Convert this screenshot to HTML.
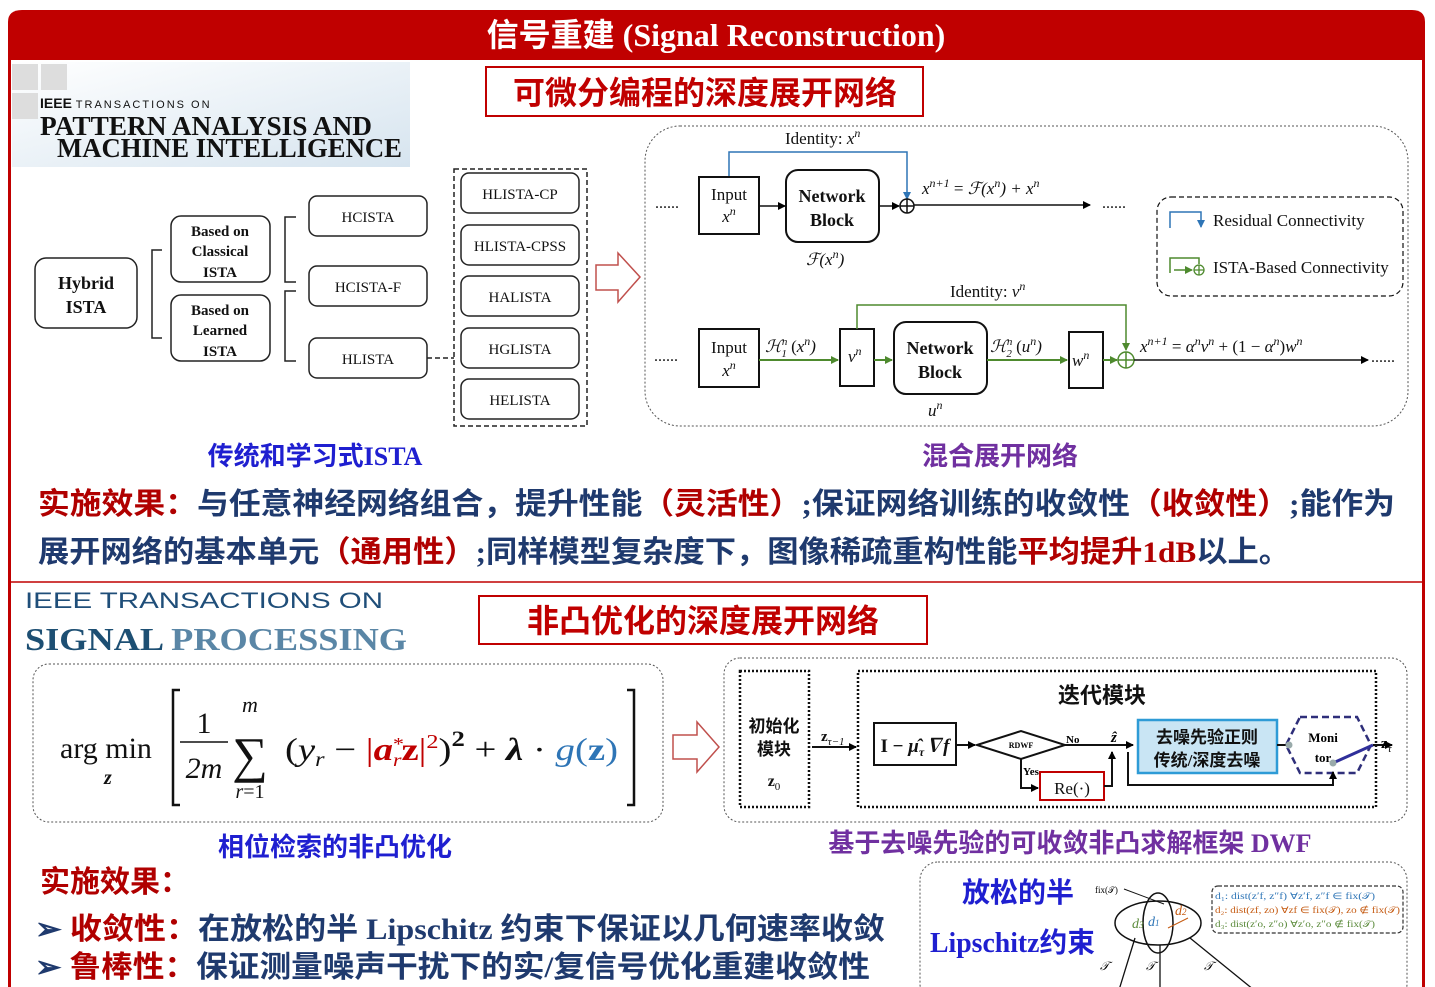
<!DOCTYPE html>
<html><head><meta charset="utf-8"><style>
html,body{margin:0;padding:0;background:#fff;}
svg{display:block;}
.s{font-family:"Liberation Serif","Noto Serif CJK SC",serif;}
.c{font-family:"Liberation Serif","Noto Sans CJK SC",sans-serif;font-weight:bold;}
</style></head><body>
<svg width="1435" height="987" viewBox="0 0 1435 987" xmlns="http://www.w3.org/2000/svg">
<defs>
<marker id="ak" markerWidth="8" markerHeight="8" refX="7" refY="4" orient="auto" markerUnits="userSpaceOnUse"><path d="M0,0 L8,4 L0,8 z" fill="#000"/></marker>
<marker id="ag" markerWidth="8" markerHeight="8" refX="7" refY="4" orient="auto" markerUnits="userSpaceOnUse"><path d="M0,0 L8,4 L0,8 z" fill="#4e8a2e"/></marker>
<marker id="ab" markerWidth="8" markerHeight="8" refX="7" refY="4" orient="auto" markerUnits="userSpaceOnUse"><path d="M0,0 L8,4 L0,8 z" fill="#2e75b6"/></marker>
<linearGradient id="lg" x1="0" x2="1" y1="0" y2="1"><stop offset="0" stop-color="#ffffff"/><stop offset="1" stop-color="#d6e4ef"/></linearGradient>
</defs>
<path d="M8,60 V22 Q8,10 22,10 H1412 Q1425,10 1425,22 V60 Z" fill="#c00000"/>
<line x1="9.5" y1="60" x2="9.5" y2="987" stroke="#c00000" stroke-width="3"/>
<line x1="1423.5" y1="60" x2="1423.5" y2="987" stroke="#c00000" stroke-width="3"/>
<line x1="9" y1="582" x2="1423" y2="582" stroke="#c00000" stroke-width="1.5"/>
<text x="716" y="46" text-anchor="middle" class="c" font-size="32" fill="#fff">信号重建 (Signal Reconstruction)</text>

<rect x="12" y="62" width="398" height="105" fill="url(#lg)"/>
<rect x="12" y="64" width="26" height="26" fill="#ddd"/><rect x="41" y="64" width="26" height="26" fill="#ddd"/><rect x="12" y="93" width="26" height="26" fill="#ddd"/>
<text x="40" y="108" font-family="Liberation Sans,sans-serif" font-size="14" font-weight="bold" fill="#111">IEEE <tspan font-size="11" font-weight="normal" letter-spacing="2">TRANSACTIONS ON</tspan></text>
<text x="40" y="135" class="s" font-size="27" font-weight="bold" fill="#111" textLength="332" lengthAdjust="spacingAndGlyphs">PATTERN ANALYSIS AND</text>
<text x="57" y="157" class="s" font-size="27" font-weight="bold" fill="#111" textLength="345" lengthAdjust="spacingAndGlyphs">MACHINE INTELLIGENCE</text>

<rect x="486" y="67" width="437" height="49" fill="none" stroke="#c00000" stroke-width="2"/>
<text x="705" y="104" text-anchor="middle" class="c" font-size="32" fill="#c00000">可微分编程的深度展开网络</text>

<g fill="none" stroke="#222" stroke-width="1.5">
<rect x="35" y="258" width="102" height="70" rx="11"/>
<rect x="171" y="216" width="99" height="66" rx="10"/>
<rect x="171" y="295" width="99" height="66" rx="10"/>
<path d="M162,250 H152 V338 H162"/>
<path d="M296,217 H285 V282 H296"/>
<path d="M296,291 H285 V361 H296"/>
<rect x="309" y="196" width="118" height="40" rx="8"/>
<rect x="309" y="266" width="118" height="40" rx="8"/>
<rect x="309" y="338" width="118" height="40" rx="8"/>
<rect x="461" y="173" width="118" height="40" rx="8"/>
<rect x="461" y="225" width="118" height="40" rx="8"/>
<rect x="461" y="276" width="118" height="40" rx="8"/>
<rect x="461" y="328" width="118" height="40" rx="8"/>
<rect x="461" y="379" width="118" height="40" rx="8"/>
<path d="M427,358 H454" stroke-dasharray="5,3"/>
<rect x="454" y="169" width="133" height="257" stroke-dasharray="5,3"/>
</g>
<g class="s" font-size="18" font-weight="bold" text-anchor="middle" fill="#111">
<text x="86" y="289">Hybrid</text><text x="86" y="313">ISTA</text>
</g>
<g class="s" font-size="15" font-weight="bold" text-anchor="middle" fill="#111">
<text x="220" y="236">Based on</text><text x="220" y="256">Classical</text><text x="220" y="277">ISTA</text>
<text x="220" y="315">Based on</text><text x="220" y="335">Learned</text><text x="220" y="356">ISTA</text>
</g>
<g class="s" font-size="15" text-anchor="middle" fill="#111">
<text x="368" y="222">HCISTA</text><text x="368" y="292">HCISTA-F</text><text x="368" y="364">HLISTA</text>
<text x="520" y="199">HLISTA-CP</text><text x="520" y="251">HLISTA-CPSS</text><text x="520" y="302">HALISTA</text><text x="520" y="354">HGLISTA</text><text x="520" y="405">HELISTA</text>
</g>
<path d="M596,265 H618 V253 L640,277 L618,302 V290 H596 Z" fill="#fff" stroke="#c0504d" stroke-width="1.5"/>

<rect x="645" y="126" width="763" height="300" rx="35" fill="none" stroke="#555" stroke-width="1" stroke-dasharray="2,2"/>
<text x="785" y="144" class="s" font-size="17" fill="#111">Identity: <tspan font-style="italic">x<tspan font-size="12" dy="-7">n</tspan></tspan></text>
<path d="M729,177 V152 H907 V199" fill="none" stroke="#2e75b6" stroke-width="1.5" marker-end="url(#ab)"/>
<g fill="none" stroke="#111" stroke-width="2">
<rect x="699" y="177" width="60" height="57"/>
<rect x="786" y="170" width="93" height="72" rx="12"/>
<rect x="699" y="329" width="60" height="58"/>
<rect x="840" y="329" width="34" height="57"/>
<rect x="894" y="322" width="93" height="72" rx="12"/>
<rect x="1069" y="332" width="34" height="56"/>
<rect x="1157" y="197" width="246" height="99" rx="14" stroke-width="1.2" stroke-dasharray="5,3"/>
</g>
<line x1="759" y1="206" x2="785" y2="206" stroke="#111" stroke-width="1.5" marker-end="url(#ak)"/>
<line x1="879" y1="206" x2="899" y2="206" stroke="#111" stroke-width="1.5" marker-end="url(#ak)"/>
<circle cx="907" cy="206" r="7" fill="none" stroke="#111" stroke-width="1.5"/>
<path d="M900,206 H914 M907,199 V213" stroke="#111" stroke-width="1.5"/>
<line x1="914" y1="205" x2="1090" y2="205" stroke="#111" stroke-width="1.5" marker-end="url(#ak)"/>
<text x="655" y="208" font-size="16" fill="#111" font-family="Liberation Serif">......</text>
<text x="1102" y="208" font-size="16" fill="#111" font-family="Liberation Serif">......</text>
<g class="s" font-size="17" text-anchor="middle" fill="#111">
<text x="729" y="200">Input</text><text x="729" y="222" font-style="italic">x<tspan font-size="12" dy="-7">n</tspan></text>
<text x="729" y="353">Input</text><text x="729" y="376" font-style="italic">x<tspan font-size="12" dy="-7">n</tspan></text>
</g>
<g class="s" font-size="18" font-weight="bold" text-anchor="middle" fill="#111">
<text x="832" y="202">Network</text><text x="832" y="226">Block</text>
<text x="940" y="354">Network</text><text x="940" y="378">Block</text>
</g>
<text x="922" y="194" class="s" font-size="17" font-style="italic" fill="#111">x<tspan font-size="12" dy="-7">n+1</tspan><tspan dy="7" font-style="normal"> = </tspan>ℱ(x<tspan font-size="12" dy="-7">n</tspan><tspan dy="7">) + x</tspan><tspan font-size="12" dy="-7">n</tspan></text>
<text x="806" y="265" class="s" font-size="17" font-style="italic" fill="#111">ℱ(x<tspan font-size="12" dy="-7">n</tspan><tspan dy="7">)</tspan></text>
<path d="M1170,228 V212 H1201 V227" fill="none" stroke="#2e75b6" stroke-width="1.5" marker-end="url(#ab)"/>
<text x="1213" y="226" class="s" font-size="17" fill="#111">Residual Connectivity</text>
<path d="M1170,273 V258 H1199 V264" fill="none" stroke="#4e8a2e" stroke-width="1.5"/>
<line x1="1174" y1="270" x2="1192" y2="270" stroke="#4e8a2e" stroke-width="1.5" marker-end="url(#ag)"/>
<circle cx="1199" cy="270" r="5" fill="none" stroke="#4e8a2e" stroke-width="1.3"/>
<path d="M1194,270 H1204 M1199,265 V275" stroke="#4e8a2e" stroke-width="1.3"/>
<text x="1213" y="273" class="s" font-size="17" fill="#111">ISTA-Based Connectivity</text>
<text x="950" y="297" class="s" font-size="17" fill="#111">Identity: <tspan font-style="italic">v<tspan font-size="12" dy="-7">n</tspan></tspan></text>
<path d="M857,329 V305 H1126 V350" fill="none" stroke="#4e8a2e" stroke-width="1.5" marker-end="url(#ag)"/>
<line x1="759" y1="360" x2="838" y2="360" stroke="#4e8a2e" stroke-width="2" marker-end="url(#ag)"/>
<line x1="874" y1="360" x2="892" y2="360" stroke="#4e8a2e" stroke-width="2" marker-end="url(#ag)"/>
<line x1="987" y1="360" x2="1067" y2="360" stroke="#4e8a2e" stroke-width="2" marker-end="url(#ag)"/>
<line x1="1103" y1="360" x2="1117" y2="360" stroke="#4e8a2e" stroke-width="2" marker-end="url(#ag)"/>
<circle cx="1126" cy="360" r="8" fill="none" stroke="#4e8a2e" stroke-width="1.5"/>
<path d="M1118,360 H1134 M1126,352 V368" stroke="#4e8a2e" stroke-width="1.5"/>
<line x1="1134" y1="360" x2="1368" y2="360" stroke="#111" stroke-width="1.5" marker-end="url(#ak)"/>
<text x="654" y="361" font-size="16" fill="#111" font-family="Liberation Serif">......</text>
<text x="1371" y="362" font-size="16" fill="#111" font-family="Liberation Serif">......</text>
<g class="s" font-size="17" font-style="italic" fill="#111">
<text x="765" y="352">ℋ<tspan font-size="11" dy="-7">n</tspan><tspan font-size="11" dx="-6" dy="12">1</tspan><tspan dy="-5" font-style="normal"> (</tspan>x<tspan font-size="12" dy="-7">n</tspan><tspan dy="7">)</tspan></text>
<text x="848" y="362">v<tspan font-size="12" dy="-7">n</tspan></text>
<text x="990" y="352">ℋ<tspan font-size="11" dy="-7">n</tspan><tspan font-size="11" dx="-6" dy="12">2</tspan><tspan dy="-5" font-style="normal"> (</tspan>u<tspan font-size="12" dy="-7">n</tspan><tspan dy="7">)</tspan></text>
<text x="1072" y="366">w<tspan font-size="12" dy="-7">n</tspan></text>
<text x="1140" y="352">x<tspan font-size="12" dy="-7">n+1</tspan><tspan dy="7" font-style="normal"> = </tspan>α<tspan font-size="12" dy="-7">n</tspan><tspan dy="7">v</tspan><tspan font-size="12" dy="-7">n</tspan><tspan dy="7" font-style="normal"> + (1 − </tspan>α<tspan font-size="12" dy="-7">n</tspan><tspan dy="7" font-style="normal">)</tspan>w<tspan font-size="12" dy="-7">n</tspan></text>
<text x="928" y="416">u<tspan font-size="12" dy="-7">n</tspan></text>
</g>

<text x="315" y="465" text-anchor="middle" class="c" font-size="26" fill="#1f1fd0">传统和学习式ISTA</text>
<text x="1000" y="465" text-anchor="middle" class="c" font-size="26" fill="#7030a0">混合展开网络</text>

<text x="38" y="514" class="c" font-size="30" fill="#1f3a6e" textLength="1357" lengthAdjust="spacingAndGlyphs"><tspan fill="#b00000">实施效果：</tspan>与任意神经网络组合，提升性能<tspan fill="#b00000">（灵活性）</tspan>;保证网络训练的收敛性<tspan fill="#b00000">（收敛性）</tspan>;能作为</text>
<text x="38" y="562" class="c" font-size="30" fill="#1f3a6e" textLength="1252" lengthAdjust="spacingAndGlyphs">展开网络的基本单元<tspan fill="#b00000">（通用性）</tspan>;同样模型复杂度下，图像稀疏重构性能<tspan fill="#b00000">平均提升1dB</tspan>以上。</text>

<text x="25" y="608" font-family="Liberation Sans,sans-serif" font-size="22" fill="#1f4e79" textLength="358" lengthAdjust="spacingAndGlyphs">IEEE TRANSACTIONS ON</text>
<text x="25" y="650" class="s" font-size="32" font-weight="bold" fill="#1d4f73" textLength="382" lengthAdjust="spacingAndGlyphs">SIGNAL  <tspan fill="#5a86a6">PROCESSING</tspan></text>
<rect x="479" y="596" width="448" height="48" fill="none" stroke="#c00000" stroke-width="2"/>
<text x="703" y="632" text-anchor="middle" class="c" font-size="32" fill="#c00000">非凸优化的深度展开网络</text>

<rect x="33" y="664" width="630" height="158" rx="16" fill="none" stroke="#555" stroke-width="1" stroke-dasharray="2,2"/>
<g class="s" fill="#111">
<text x="60" y="758" font-size="30">arg min</text>
<text x="104" y="784" font-size="20" font-weight="bold" font-style="italic">z</text>
<path d="M180,690 H173 V805 H180" fill="none" stroke="#111" stroke-width="2.5"/>
<text x="204" y="733" font-size="30" text-anchor="middle">1</text>
<line x1="180" y1="742" x2="228" y2="742" stroke="#111" stroke-width="1.5"/>
<text x="204" y="778" font-size="30" text-anchor="middle" font-style="italic">2m</text>
<text x="250" y="772" font-size="50" text-anchor="middle">∑</text>
<text x="250" y="712" font-size="22" text-anchor="middle" font-style="italic">m</text>
<text x="250" y="798" font-size="20" text-anchor="middle"><tspan font-style="italic">r</tspan>=1</text>
<text x="285" y="760" font-size="32" textLength="333" lengthAdjust="spacingAndGlyphs">(<tspan font-style="italic">y<tspan font-size="20" dy="6">r</tspan></tspan><tspan dy="-6"> − </tspan><tspan fill="#c00000">|<tspan font-weight="bold" font-style="italic">a</tspan><tspan font-size="18" dy="-10">*</tspan><tspan font-size="18" dx="-9" dy="16" font-style="italic">r</tspan><tspan dy="-6" font-weight="bold">z</tspan>|<tspan font-size="20" dy="-12">2</tspan></tspan><tspan dy="12">)</tspan><tspan font-size="22" font-weight="bold" dy="-14">2</tspan><tspan dy="14"> + </tspan><tspan font-weight="bold" font-style="italic">λ</tspan> · <tspan fill="#2e75b6"><tspan font-style="italic">g</tspan>(<tspan font-weight="bold">z</tspan>)</tspan></text>
<path d="M627,690 H634 V805 H627" fill="none" stroke="#111" stroke-width="2.5"/>
</g>
<path d="M673,735 H697 V722 L719,747 L697,772 V759 H673 Z" fill="#fff" stroke="#c0504d" stroke-width="1.5"/>

<rect x="724" y="658" width="683" height="164" rx="16" fill="none" stroke="#555" stroke-width="1" stroke-dasharray="2,2"/>
<rect x="740" y="671" width="69" height="136" fill="none" stroke="#111" stroke-width="2.5" stroke-dasharray="2,2"/>
<rect x="858" y="671" width="518" height="136" fill="none" stroke="#111" stroke-width="2.5" stroke-dasharray="2,2"/>
<g class="c" fill="#111" text-anchor="middle">
<text x="774" y="732" font-size="17">初始化</text><text x="774" y="755" font-size="17">模块</text>
<text x="774" y="786" font-size="16">z<tspan font-size="11" dy="4" font-weight="normal">0</tspan></text>
<text x="1102" y="703" font-size="22">迭代模块</text>
</g>
<text x="821" y="741" class="s" font-size="15" font-weight="bold" fill="#111">z<tspan font-size="11" dy="4" font-weight="normal" font-style="italic">τ−1</tspan></text>
<line x1="812" y1="747" x2="856" y2="747" stroke="#111" stroke-width="2" marker-end="url(#ak)"/>
<rect x="874" y="723" width="82" height="42" fill="#fff" stroke="#111" stroke-width="2"/>
<text x="915" y="752" text-anchor="middle" class="s" font-size="19" font-weight="bold" fill="#111">I − <tspan font-style="italic">μ̂<tspan font-size="12" dy="4">τ</tspan><tspan dy="-4">∇f</tspan></tspan></text>
<line x1="956" y1="745" x2="975" y2="745" stroke="#111" stroke-width="2" marker-end="url(#ak)"/>
<path d="M977,745 L1021,731 L1065,745 L1021,759 Z" fill="#fff" stroke="#111" stroke-width="2"/>
<text x="1021" y="748" text-anchor="middle" font-family="Liberation Serif" font-size="8" font-weight="bold">RDWF</text>
<line x1="1065" y1="745" x2="1133" y2="745" stroke="#111" stroke-width="2" marker-end="url(#ak)"/>
<text x="1066" y="743" font-family="Liberation Serif" font-size="11" font-weight="bold">No</text>
<path d="M1021,759 V788 H1038" fill="none" stroke="#111" stroke-width="2" marker-end="url(#ak)"/>
<text x="1023" y="775" font-family="Liberation Serif" font-size="11" font-weight="bold">Yes</text>
<rect x="1040" y="772" width="64" height="28" fill="#fff" stroke="#c00000" stroke-width="2"/>
<text x="1072" y="794" text-anchor="middle" class="s" font-size="17" fill="#111">Re(·)</text>
<path d="M1104,786 H1112 V752" fill="none" stroke="#111" stroke-width="2" marker-end="url(#ak)"/>
<text x="1111" y="742" class="s" font-size="15" font-weight="bold" font-style="italic">ẑ</text>
<rect x="1138" y="720" width="139" height="53" fill="#c9e5f4" stroke="#2e9bd6" stroke-width="2.5"/>
<text x="1207" y="743" text-anchor="middle" class="c" font-size="17" fill="#111">去噪先验正则</text>
<text x="1207" y="766" text-anchor="middle" class="c" font-size="17" fill="#111">传统/深度去噪</text>
<line x1="1277" y1="745" x2="1287" y2="745" stroke="#111" stroke-width="2"/>
<path d="M1300,717 H1357 L1371,745 L1357,773 H1300 L1286,745 Z" fill="none" stroke="#2f2f7a" stroke-width="2.5" stroke-dasharray="7,4"/>
<circle cx="1289" cy="745" r="3.5" fill="#9aa"/>
<text x="1323" y="742" text-anchor="middle" class="s" font-size="13" font-weight="bold">Moni</text>
<text x="1323" y="762" text-anchor="middle" class="s" font-size="13" font-weight="bold">tor</text>
<line x1="1333" y1="763" x2="1373" y2="745" stroke="#2f2f9a" stroke-width="3"/>
<circle cx="1333" cy="763" r="3.5" fill="#9aa"/>
<path d="M1128,752 V785 H1333 V772" fill="none" stroke="#111" stroke-width="2" marker-end="url(#ak)"/>
<line x1="1373" y1="745" x2="1392" y2="745" stroke="#111" stroke-width="2" marker-end="url(#ak)"/>
<text x="1381" y="748" class="s" font-size="15" font-weight="bold">z<tspan font-size="11" dy="4" font-weight="normal" font-style="italic">τ</tspan></text>

<text x="335" y="856" text-anchor="middle" class="c" font-size="26" fill="#1f1fd0">相位检索的非凸优化</text>
<text x="1070" y="852" text-anchor="middle" class="c" font-size="26" fill="#7030a0">基于去噪先验的可收敛非凸求解框架 DWF</text>

<text x="40" y="892" class="c" font-size="30" fill="#b00000">实施效果：</text>
<text x="35" y="939" class="c" font-size="30" fill="#1f3a6e" textLength="850" lengthAdjust="spacingAndGlyphs">➢ <tspan fill="#b00000">收敛性：</tspan>在放松的半 Lipschitz 约束下保证以几何速率收敛</text>
<text x="35" y="977" class="c" font-size="30" fill="#1f3a6e" textLength="835" lengthAdjust="spacingAndGlyphs">➢ <tspan fill="#b00000">鲁棒性：</tspan>保证测量噪声干扰下的实/复信号优化重建收敛性</text>

<rect x="920" y="862" width="487" height="140" rx="18" fill="none" stroke="#555" stroke-width="1" stroke-dasharray="2,2"/>
<text x="1018" y="902" text-anchor="middle" class="c" font-size="28" fill="#1f1fd0">放松的半</text>
<text x="930" y="952" class="c" font-size="28" fill="#1f1fd0" textLength="165" lengthAdjust="spacingAndGlyphs">Lipschitz约束</text>
<ellipse cx="1158" cy="923" rx="43" ry="22" fill="none" stroke="#111" stroke-width="1.5"/>
<ellipse cx="1158" cy="923" rx="15" ry="30" fill="none" stroke="#111" stroke-width="1.5"/>
<text x="1095" y="893" font-family="Liberation Serif" font-size="9">fix(𝒯)</text>
<line x1="1124" y1="889" x2="1164" y2="904" stroke="#111"/>
<text x="1132" y="928" font-family="Liberation Serif" font-size="14" fill="#5a8a3a" font-style="italic">d<tspan font-size="9">3</tspan></text>
<text x="1148" y="926" font-family="Liberation Serif" font-size="14" fill="#2e75b6" font-style="italic">d<tspan font-size="9">1</tspan></text>
<text x="1175" y="915" font-family="Liberation Serif" font-size="14" fill="#c55a11" font-style="italic">d<tspan font-size="9">2</tspan></text>
<line x1="1168" y1="928" x2="1188" y2="918" stroke="#c55a11"/>
<path d="M1135,938 L1119,990 M1160,945 V990 M1190,938 L1254,990" stroke="#111" stroke-width="1.3" fill="none"/>
<text x="1100" y="970" font-family="Liberation Serif" font-size="12" font-style="italic">𝒯</text>
<text x="1146" y="970" font-family="Liberation Serif" font-size="12" font-style="italic">𝒯</text>
<text x="1204" y="970" font-family="Liberation Serif" font-size="12" font-style="italic">𝒯</text>
<rect x="1212" y="886" width="191" height="47" rx="6" fill="none" stroke="#333" stroke-width="1.2" stroke-dasharray="4,2"/>
<text x="1215" y="899" font-family="Liberation Serif" font-size="9" fill="#2e75b6" textLength="160" lengthAdjust="spacingAndGlyphs">d₁: dist(z′f, z″f)  ∀z′f, z″f ∈ fix(𝒯)</text>
<text x="1215" y="913" font-family="Liberation Serif" font-size="9" fill="#c55a11" textLength="185" lengthAdjust="spacingAndGlyphs">d₂: dist(zf, zo)  ∀zf ∈ fix(𝒯), zo ∉ fix(𝒯)</text>
<text x="1215" y="927" font-family="Liberation Serif" font-size="9" fill="#5a8a3a" textLength="160" lengthAdjust="spacingAndGlyphs">d₃: dist(z′o, z″o)  ∀z′o, z″o ∉ fix(𝒯)</text>
</svg>
</body></html>
